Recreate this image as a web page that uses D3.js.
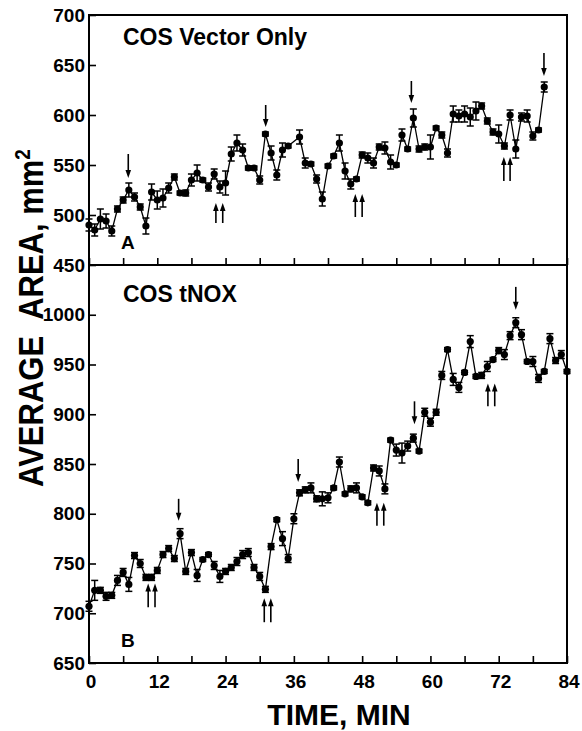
<!DOCTYPE html>
<html><head><meta charset="utf-8">
<script src="https://cdn.jsdelivr.net/npm/d3@7/dist/d3.min.js"></script>
<style>body{margin:0;background:#fff}</style>
</head><body>
<svg id="c" width="582" height="731"></svg>
<script>
// ---------- DATA ----------
const timeA = [0,1,2,3,4,5,6,7,8,9,10,11,12,13,14,15,16,17,18,19,20,21,22,23,24,25,26,27,28,29,30,31,32,33,34,35,37,38,39,40,41,42,43,44,45,46,47,48,49,50,51,52,53,54,55,56,57,58,59,60,61,62,63,64,65,66,67,68,69,70,71,72,73,74,75,76,77,78,79,80];
const valA  = [490,485,496,494,484,506,515,525,518,508,489,523,515,517,527,538,522,522,535,542,535,528,541,528,532,561,572,565,547,547,535,581,562,540,565,569,578,552,551,536,516,549,559,572,544,531,536,560,557,552,568,567,553,550,580,566,597,566,568,568,587,580,562,601,599,601,598,604,609,594,583,581,569,600,566,598,599,579,585,628];
const errA  = [6,6,10,7,5,3,3,7,4,3,8,8,9,9,5,3,2,3,6,8,2,4,5,6,12,7,8,6,2,2,4,2,7,5,7,2,7,5,2,4,7,2,2,8,8,5,2,3,5,5,3,6,7,2,6,2,9,3,3,12,2,3,4,8,6,8,9,9,3,3,3,9,3,5,9,4,6,4,2,5];

const timeB = [0,1,2,3,4,5,6,7,8,9,10,11,12,13,14,15,16,17,18,19,20,21,22,23,24,25,26,27,28,29,30,31,32,33,34,35,36,37,38,39,40,41,42,43,44,45,46,47,48,49,50,51,52,53,54,55,56,57,58,59,60,61,62,63,64,65,66,67,68,69,70,71,72,73,74,75,76,77,78,79,80,81,82,83,84];
const valB  = [707,723,723,717,718,733,741,729,758,750,736,736,743,759,765,755,780,742,761,738,754,759,748,737,742,746,752,759,761,746,737,724,767,794,775,755,795,821,824,826,815,815,816,826,852,820,825,826,817,811,846,843,825,874,864,861,868,876,863,902,892,902,939,965,935,927,942,973,938,939,948,955,964,960,979,992,980,953,953,936,943,976,954,960,943];
const errB  = [5,10,3,4,3,5,4,7,3,4,3,3,3,3,3,3,5,3,3,6,2,2,4,6,3,3,4,4,4,3,4,3,3,2,7,4,5,3,3,5,3,7,5,2,5,2,3,5,2,2,3,5,5,2,6,10,5,4,2,4,4,3,4,2,6,5,2,6,2,3,5,2,3,5,4,5,5,2,5,4,2,5,3,4,2];

// arrows: [time, tailValue, tipValue]
const downA = [[6.9,561,537],[31.05,610,588],[56.65,634,612],[79.95,662,639]];
const upA   = [[22.3,492,512],[23.5,492,512],[46.8,498,521],[48.0,498,521],[72.9,534,558],[74.0,534,558]];
const downB = [[15.75,815,793],[36.76,855,832],[57.2,913,890],[75.0,1028,1005]];
const upB   = [[10.4,706,730],[11.6,706,730],[30.8,691,715],[31.95,691,715],[50.6,788,811],[51.8,788,811],[70.1,908,931],[71.3,908,931]];

const xTicks  = [0,6,12,18,24,30,36,42,48,54,60,66,72,78,84];
const xLabels = [0,12,24,36,48,60,72,84];
const yTicksA = [450,500,550,600,650,700];
const yTicksB = [650,700,750,800,850,900,950,1000];

const titleA = "COS Vector Only", titleB = "COS tNOX";
const letterA = "A", letterB = "B";
const xTitle = "TIME, MIN";
const yTitleMain = "AVERAGE  AREA, mm", yTitleSup = "2";

// ---------- LAYOUT ----------
const svg = d3.select("#c");
const FONT = "'Liberation Sans', Arial, Helvetica, sans-serif";
const X0 = 89, X1 = 567;
const x = d3.scaleLinear().domain([0,84]).range([X0,X1]);
const yA = d3.scaleLinear().domain([450,700]).range([265,15]);
const yB = d3.scaleLinear().domain([650,1050]).range([663,265]);

function panel(y, times, vals, errs, downs, ups, yTicks, title, titleY, letter, letterY) {
  const g = svg.append("g");
  const [ybot, ytop] = y.range();
  const ax = d3.axisBottom(x).tickValues(xTicks).tickSizeInner(-7).tickSizeOuter(0).tickFormat("");
  g.append("g").attr("transform", `translate(0,${ybot})`).call(ax)
    .call(s => s.select(".domain").remove())
    .call(s => s.selectAll("line").attr("stroke","#000").attr("stroke-width",1.6));
  const ay = d3.axisLeft(y).tickValues(yTicks).tickSizeInner(-7).tickSizeOuter(0).tickPadding(5)
    .tickFormat(d3.format("d"));
  g.append("g").attr("transform", `translate(${X0},0)`).call(ay)
    .call(s => s.select(".domain").remove())
    .call(s => s.selectAll("line").attr("stroke","#000").attr("stroke-width",1.6))
    .call(s => s.selectAll("text").attr("font-family",FONT).attr("font-weight","bold")
       .attr("font-size",19).attr("fill","#000").attr("dx",1));
  const pts = times.map((t,i)=>({t, v:vals[i], e:errs[i]}));
  g.append("path").datum(pts)
    .attr("d", d3.line().x(d=>x(d.t)).y(d=>y(d.v)))
    .attr("fill","none").attr("stroke","#000").attr("stroke-width",1.3);
  const eb = g.append("g").attr("stroke","#000").attr("stroke-width",1.5);
  pts.forEach(d=>{
    const cx = x(d.t);
    eb.append("line").attr("x1",cx).attr("x2",cx).attr("y1",y(d.v-d.e)).attr("y2",y(d.v+d.e));
    [d.v-d.e, d.v+d.e].forEach(v=>{
      eb.append("line").attr("x1",cx-3.5).attr("x2",cx+3.5).attr("y1",y(v)).attr("y2",y(v));
    });
  });
  g.append("g").selectAll("circle").data(pts).join("circle")
    .attr("cx",d=>x(d.t)).attr("cy",d=>y(d.v)).attr("r",3.6).attr("fill","#000");
  function arrow(a) {
    const [t, v0, v1] = a;
    const ax0 = x(t), ay0 = y(v0), ay1 = y(v1);
    const dir = ay1 > ay0 ? 1 : -1;
    const head = 8;
    g.append("line").attr("x1",ax0).attr("x2",ax0).attr("y1",ay0).attr("y2",ay1 - dir*head*0.6)
      .attr("stroke","#000").attr("stroke-width",1.6);
    g.append("path").attr("d", `M${ax0},${ay1} L${ax0-2.8},${ay1-dir*head} L${ax0+2.8},${ay1-dir*head} Z`)
      .attr("fill","#000");
  }
  downs.forEach(arrow);
  ups.forEach(arrow);
  g.append("text").attr("x",123).attr("y",titleY).text(title)
    .attr("font-family",FONT).attr("font-weight","bold").attr("font-size",23);
  g.append("text").attr("x",121).attr("y",letterY).text(letter)
    .attr("font-family",FONT).attr("font-weight","bold").attr("font-size",19);
}

panel(yA, timeA, valA, errA, downA, upA, yTicksA, titleA, 44.5, letterA, 249);
panel(yB, timeB, valB, errB, downB, upB, yTicksB, titleB, 302, letterB, 647);

svg.append("rect").attr("x",X0).attr("y",15).attr("width",X1-X0).attr("height",663-15)
  .attr("fill","none").attr("stroke","#000").attr("stroke-width",2);
svg.append("line").attr("x1",X0).attr("x2",X1).attr("y1",265).attr("y2",265)
  .attr("stroke","#000").attr("stroke-width",2);

svg.append("g").selectAll("text").data(xLabels).join("text")
  .attr("x",d=>x(d)+2).attr("y",688).attr("text-anchor","middle").text(d=>d)
  .attr("font-family",FONT).attr("font-weight","bold").attr("font-size",19);

svg.append("text").attr("x",339).attr("y",725).attr("text-anchor","middle").text(xTitle)
  .attr("font-family",FONT).attr("font-weight","bold").attr("font-size",30);
const yt = svg.append("text").attr("transform","translate(43,318) rotate(-90) scale(1,1.12)")
  .attr("text-anchor","middle").style("white-space","pre")
  .attr("font-family",FONT).attr("font-weight","bold").attr("font-size",31);
yt.append("tspan").text(yTitleMain);
yt.append("tspan").text(yTitleSup).attr("font-size",19).attr("dy",-12);
</script>
</body></html>
